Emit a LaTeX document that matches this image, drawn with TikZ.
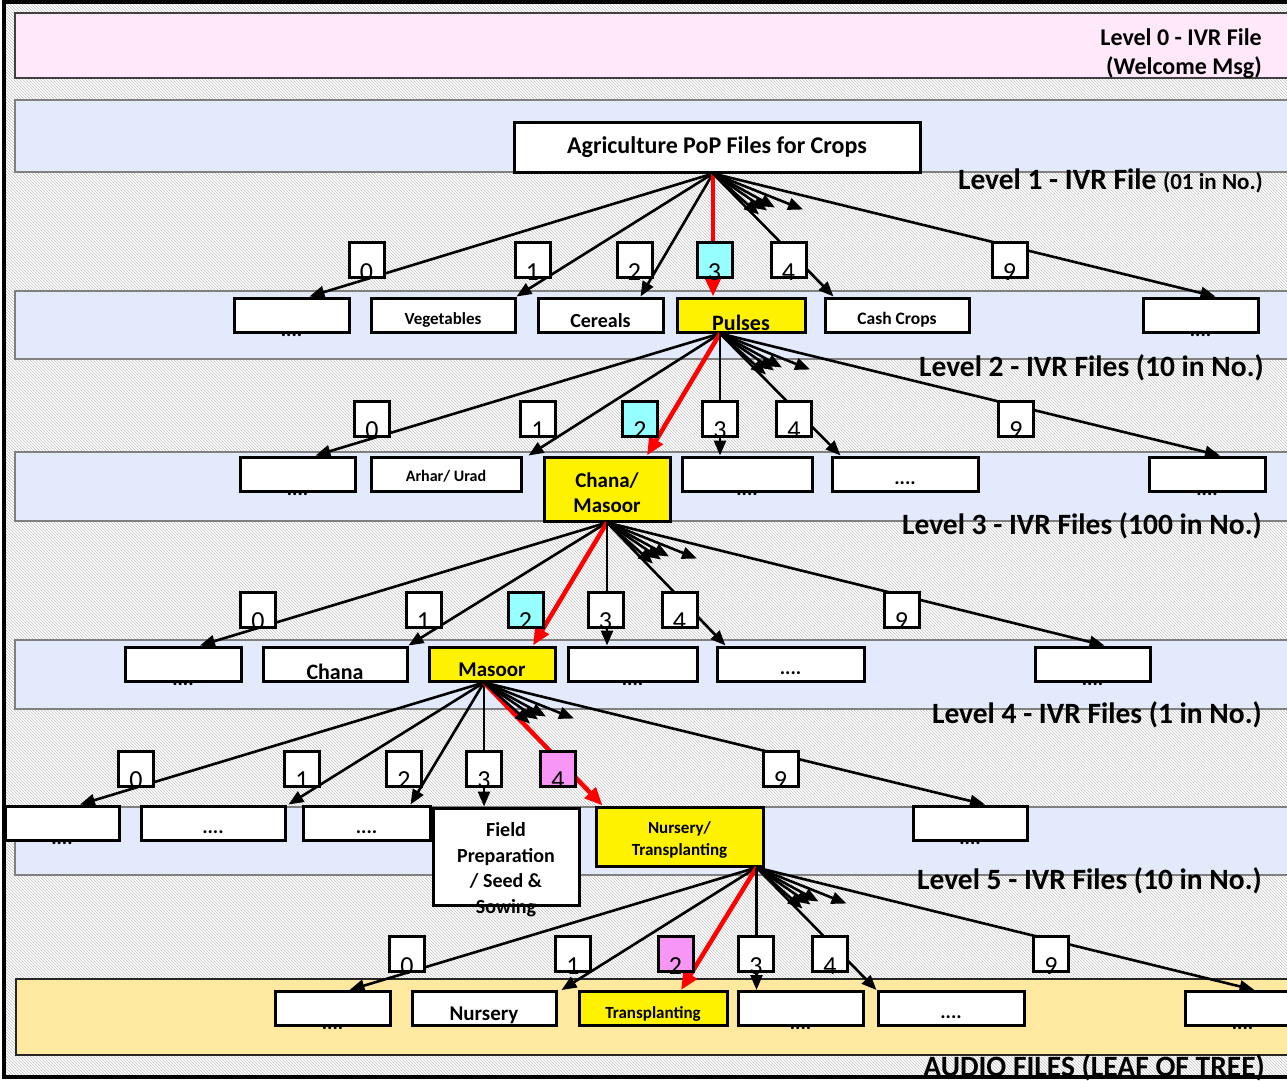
\documentclass[tikz,border=0pt]{standalone}
\usepackage{fontspec}
\setmainfont{Carlito}
\usepackage{tikz}
\usetikzlibrary{arrows.meta,patterns}
\usepackage{xcolor}

\definecolor{pinkband}{RGB}{255,232,250}
\definecolor{blueband}{RGB}{227,234,252}
\definecolor{leafband}{RGB}{255,232,160}
\definecolor{keycyan}{RGB}{150,255,255}
\definecolor{keypink}{RGB}{248,150,245}

\tikzset{
	tag/.style 2 args={font=\bfseries\fontsize{#1}{#2}\selectfont},
	band/.style={fill=blueband, draw=black!50, line width=1.5},
	box/.style={draw, line width=3, fill=white, minimum height=34, inner sep=0},
	pick/.style={box, fill=yellow},
	dotsout/.style={label={[tag={20}{20}, yshift=-20pt]center:....}},
	dotsin/.style={label={[tag={20}{20}, yshift=-9pt]center:....}},
	digitbox/.style={draw, line width=3, fill=white, minimum size=35, inner sep=0,
		label={[font=\fontsize{26}{26}\selectfont, yshift=-12pt]center:#1}},
	wire/.style={line width=2.6, -{Triangle[length=15pt,width=12pt]}},
	route/.style={red, line width=4.5, -{Triangle[length=18pt,width=15pt]}},
	lvl/.style={anchor=east, inner sep=0, tag={29.5}{29.5}}
}

\begin{document}
\begin{tikzpicture}[x=1pt, y=-1pt]
	\useasboundingbox (0,0) rectangle (1287,1080);
	\clip (0,0) rectangle (1287,1080);
	
	% backdrop and level bands
	\fill[pattern=north west lines, pattern color=black!24] (3,2) rectangle (1287,1077);
	\draw[fill=pinkband, draw=black!75, line width=1.5] (15,13) rectangle (1300,78);
	\draw[band] (15,100) rectangle (1300,172);
	\draw[band] (15,291) rectangle (1300,359);
	\draw[band] (15,452) rectangle (1300,521);
	\draw[band] (15,640) rectangle (1300,709);
	\draw[band] (15,807) rectangle (1300,875);
	\draw[fill=leafband, draw=black!85, line width=1.5] (16,979) rectangle (1300,1055);
	\draw[line width=4] (1300,1.5) -- (3.5,1.5) -- (3.5,1077) -- (1300,1077);
	
	\node[lvl, align=right, tag={24}{29}] (lv0) at (1262,54) {Level 0 - IVR File\\(Welcome Msg)};
	\node[lvl] (lv1) at (1263,181) {Level 1 - IVR File {\fontsize{23}{23}\selectfont(01 in No.)}};
	\node[lvl] (lv2) at (1264,368) {Level 2 - IVR Files (10 in No.)};
	\node[lvl] (lv3) at (1262,526) {Level 3 - IVR Files (100 in No.)};
	\node[lvl] (lv4) at (1262,715) {Level 4 - IVR Files (1 in No.)};
	\node[lvl] (lv5) at (1262,881) {Level 5 - IVR Files (10 in No.)};
	\node[lvl] (leaf) at (1265,1068) {AUDIO FILES (LEAF OF TREE)};
	
	% level 1
	\node[box, minimum width=406, minimum height=50, tag={24}{24}] (root) at (717,147) {Agriculture PoP Files for Crops};
	
	% level 2
	\node[box, minimum width=115, dotsout] (b0) at (291.5,315) {};
	\node[box, minimum width=144, label={[tag={17}{17}, yshift=-5pt]center:Vegetables}] (b1) at (443,315) {};
	\node[box, minimum width=125, label={[tag={20}{20}, yshift=-6pt]center:Cereals}] (b2) at (600.5,315) {};
	\node[pick, minimum width=128, label={[tag={22}{22}, yshift=-8pt]center:Pulses}] (b3) at (741,315) {};
	\node[box, minimum width=144, label={[tag={17.5}{17.5}, yshift=-5pt]center:Cash Crops}] (b4) at (897,315) {};
	\node[box, minimum width=115, dotsout] (b9) at (1200.5,315) {};
	
	% level 3
	\node[box, minimum width=115, dotsout] (c0) at (297.5,474) {};
	\node[box, minimum width=150, label={[tag={16}{16}, yshift=-2pt]center:Arhar/ Urad}] (c1) at (446,474) {};
	\node[pick, minimum width=126, minimum height=64, label={[tag={21}{25}, align=center, yshift=-4pt]center:{Chana/\\Masoor}}] (c2) at (607,489) {};
	\node[box, minimum width=130, dotsout] (c3) at (747,474) {};
	\node[box, minimum width=146, dotsin] (c4) at (905,474) {};
	\node[box, minimum width=116, dotsout] (c9) at (1207,474) {};
	
	% level 4
	\node[box, minimum width=116, dotsout] (d0) at (183,664) {};
	\node[box, minimum width=144, label={[tag={22}{22}, yshift=-8pt]center:Chana}] (d1) at (335,664) {};
	\node[pick, minimum width=126, label={[tag={21}{21}, yshift=-6pt]center:Masoor}] (d2) at (492,664) {};
	\node[box, minimum width=129, dotsout] (d3) at (632.5,664) {};
	\node[box, minimum width=147, dotsin] (d4) at (790.5,664) {};
	\node[box, minimum width=115, dotsout] (d9) at (1092.5,664) {};
	
	% level 5
	\node[box, minimum width=114, dotsout] (e0) at (62,823) {};
	\node[box, minimum width=144, dotsin] (e1) at (213,823) {};
	\node[box, minimum width=127, dotsin] (e2) at (366.5,823) {};
	\node[box, minimum width=146, minimum height=97, label={[tag={20}{25.5}, align=center, yshift=-13pt]center:{Field\\Preparation\\/ Seed \&\\Sowing}}] (e3) at (506,856.5) {};
	\node[pick, minimum width=167, minimum height=59, label={[tag={17}{22}, align=center, yshift=-3pt]center:{Nursery/\\Transplanting}}] (e4) at (679.5,836.5) {};
	\node[box, minimum width=114, dotsout] (e9) at (970,823) {};
	
	% audio files
	\node[box, minimum width=115, dotsout] (f0) at (332.5,1008.5) {};
	\node[box, minimum width=144, label={[tag={21}{21}, yshift=-7pt]center:Nursery}] (f1) at (484,1008.5) {};
	\node[pick, minimum width=148, label={[tag={17}{17}, yshift=-5pt]center:Transplanting}] (f2) at (653,1008.5) {};
	\node[box, minimum width=125, dotsout] (f3) at (800.5,1008.5) {};
	\node[box, minimum width=146, dotsin] (f4) at (951,1008.5) {};
	\node[box, minimum width=115, dotsout] (f9) at (1242.5,1008.5) {};
	
	\coordinate (s1) at ([xshift=-4pt]root.south);
	\coordinate (s2) at ([xshift=-21pt]b3.south);
	\coordinate (s3) at (c2.south);
	\coordinate (s4) at ([xshift=-8pt]d2.south);
	\coordinate (s5) at ([xshift=-8pt]e4.south east);
	
	% branches
	\draw[wire] (s1) -- ([xshift=18pt]b0.north);
	\draw[wire] (s1) -- (b1.north east);
	\draw[wire] (s1) -- ([xshift=40pt]b2.north);
	\draw[route] (s1) -- (s1 |- b3.north);
	\draw[wire] (s1) -- ([xshift=10pt]b4.north west);
	\draw[wire] (s1) -- ([xshift=15pt]b9.north);
	
	\draw[wire] (s2) -- ([xshift=18pt]c0.north);
	\draw[wire] (s2) -- ([xshift=6pt]c1.north east);
	\draw[route] (s2) -- ([xshift=40pt]c2.north);
	\draw[wire] (s2) -- (s2 |- c3.north);
	\draw[wire] (s2) -- ([xshift=10pt]c4.north west);
	\draw[wire] (s2) -- ([xshift=13pt]c9.north);
	
	\draw[wire] (s3) -- ([xshift=17pt]d0.north);
	\draw[wire] (s3) -- (d1.north east);
	\draw[route] (s3) -- ([xshift=41pt]d2.north);
	\draw[wire] (s3) -- (s3 |- d3.north);
	\draw[wire] (s3) -- ([xshift=10pt]d4.north west);
	\draw[wire] (s3) -- ([xshift=12pt]d9.north);
	
	\draw[wire] (s4) -- ([xshift=18pt]e0.north);
	\draw[wire] (s4) -- ([xshift=2pt]e1.north east);
	\draw[wire] (s4) -- ([xshift=44pt]e2.north);
	\draw[wire] (s4) -- (s4 |- e3.north);
	\draw[route] (s4) -- ([xshift=8pt]e4.north west);
	\draw[wire] (s4) -- ([xshift=15pt]e9.north);
	
	\draw[wire] (s5) -- ([xshift=17pt]f0.north);
	\draw[wire] (s5) -- ([xshift=4pt]f1.north east);
	\draw[route] (s5) -- ([xshift=28pt]f2.north);
	\draw[wire] (s5) -- (s5 |- f3.north);
	\draw[wire] (s5) -- (f4.north west);
	\draw[wire] (s5) -- ([xshift=12pt]f9.north);
	
	% keys 5 to 8, left open
	\foreach \s in {s1,s2,s3,s4,s5}
		\foreach \dx/\dy in {46/41,54/37,62/34,90/36}
			\draw[wire] (\s) -- ++(\dx,\dy);
	
	% key boxes
	\foreach \k/\x in {0/366.5,1/532.5,2/634.5,4/788.5,9/1009.5}
		\node[digitbox=\k] (ka\k) at (\x,260) {};
	\node[digitbox=3, fill=keycyan] (ka3) at (714.5,260) {};
	\foreach \k/\x in {0/372,1/538,3/720,4/794,9/1016}
		\node[digitbox=\k] (kb\k) at (\x,418.5) {};
	\node[digitbox=2, fill=keycyan] (kb2) at (640,418.5) {};
	\foreach \k/\x in {0/258,1/423.5,3/605.5,4/679.5,9/901.5}
		\node[digitbox=\k] (kc\k) at (\x,609.5) {};
	\node[digitbox=2, fill=keycyan] (kc2) at (525.5,609.5) {};
	\foreach \k/\x in {0/136,1/302,2/404,3/484,9/780.5}
		\node[digitbox=\k] (kd\k) at (\x,768.5) {};
	\node[digitbox=4, fill=keypink] (kd4) at (558,768.5) {};
	\foreach \k/\x in {0/407,1/573,3/756,4/830,9/1051}
		\node[digitbox=\k] (ke\k) at (\x,954) {};
	\node[digitbox=2, fill=keypink] (ke2) at (675.5,954) {};
\end{tikzpicture}
\end{document}
